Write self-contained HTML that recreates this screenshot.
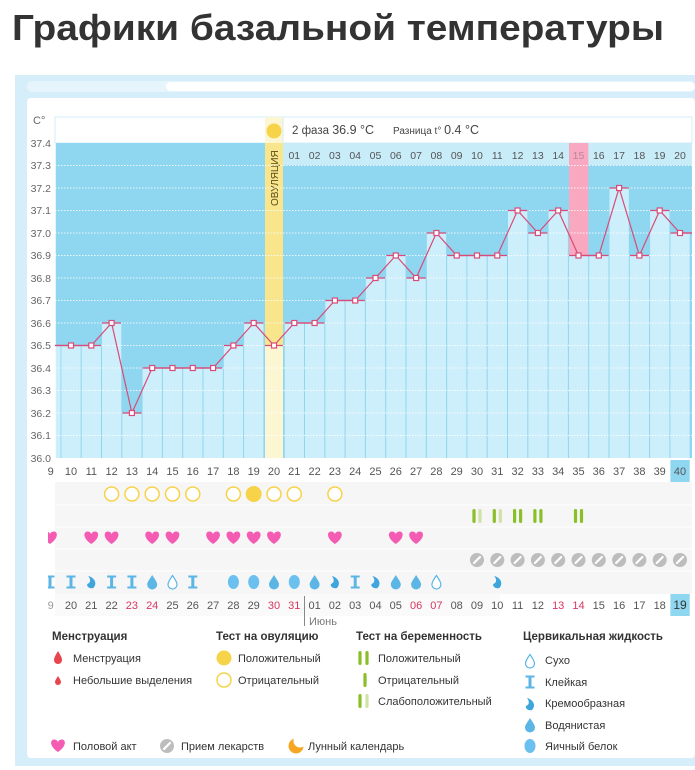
<!DOCTYPE html>
<html><head><meta charset="utf-8"><style>
html,body{margin:0;padding:0;background:#fff;}
svg{display:block;font-family:"Liberation Sans","Noto Sans CJK SC",sans-serif;}
</style></head><body>
<svg width="695" height="770" viewBox="0 0 695 770" xmlns="http://www.w3.org/2000/svg">
<defs>
<path id="hrt" d="M0,6 C-9,0 -8,-6.5 -3.7,-6.5 C-1.7,-6.5 0,-5 0,-3.5 C0,-5 1.7,-6.5 3.7,-6.5 C8,-6.5 9,0 0,6Z" fill="#f45cb3"/>
<g id="pill"><circle r="7" fill="#bdbdbd"/><line x1="-3" y1="3" x2="3" y2="-3" stroke="#fff" stroke-width="2.2" stroke-linecap="round"/></g>
<path id="drop" d="M0,-7 C2.5,-3 5,0 5,2.5 A5,5 0 0 1 -5,2.5 C-5,0 -2.5,-3 0,-7Z" fill="#5bb6e6"/>
<path id="edrop" d="M0,-6.5 C2.5,-3 4.5,0 4.5,2.5 A4.5,4.5 0 0 1 -4.5,2.5 C-4.5,0 -2.5,-3 0,-6.5Z" fill="#fff" stroke="#5bb6e6" stroke-width="1.2"/>
<ellipse id="egg" rx="5.5" ry="7" fill="#6cc0ef"/>
<path id="ii" d="M-4.5,-6.5 H4.5 V-4.5 H1.5 V4.5 H4.5 V6.5 H-4.5 V4.5 H-1.5 V-4.5 H-4.5Z" fill="#5bb6e6"/>
<path id="crm" d="M-3,-6 C4,-4 6,2 2,6 C-1,7 -5,5 -4,2 C-1,1 0,-2 -3,-6Z" fill="#3fa6dd"/>
<circle id="oe" r="7" fill="#fff" stroke="#f7d34a" stroke-width="1.5"/>
<circle id="of" r="8" fill="#f7d34a"/>
<rect id="pd" x="-1.6" y="-7" width="3.2" height="14" rx="1.6" fill="#8bbf2a"/>
<rect id="pl" x="-1.6" y="-7" width="3.2" height="14" rx="1.6" fill="#cfe3a6"/>
</defs>

<text x="12" y="40" font-size="36" font-weight="bold" fill="#333" textLength="652" lengthAdjust="spacingAndGlyphs">Графики базальной температуры</text>

<!-- frame -->
<rect x="15" y="75" width="680" height="691" fill="#d6eef9"/>
<rect x="27" y="98" width="668" height="660" rx="4" fill="#fff"/>
<rect x="27" y="81" width="668" height="11" rx="5" fill="#e6f5fc"/>
<rect x="166" y="82" width="529" height="9" rx="4.5" fill="#fff"/>

<!-- header -->
<rect x="55" y="117" width="637" height="26" fill="#fff" stroke="#d3ecf7"/>
<text x="33" y="124" font-size="11" fill="#666">C°</text>
<rect x="265" y="117" width="18" height="341" fill="#fdf6d2"/>
<circle cx="274" cy="131" r="7.5" fill="#f7d34a"/>
<rect x="283" y="117" width="409" height="26" fill="#fff" stroke="#d3ecf7"/>
<text x="292" y="134" font-size="11.5" fill="#444">2 фаза <tspan font-size="12.5">36.9 °C</tspan></text>
<text x="393" y="134" font-size="10" fill="#444">Разница t° <tspan font-size="12.5">0.4 °C</tspan></text>

<!-- plot bg -->
<rect x="55" y="143" width="210" height="315" fill="#8fd6f0"/>
<rect x="283" y="165" width="409" height="293" fill="#8fd6f0"/>
<rect x="283" y="143" width="409" height="22" fill="#c9ecf9"/>
<rect x="265" y="143" width="18" height="202" fill="#f8e58c"/>
<text transform="translate(278,206) rotate(-90)" font-size="10" fill="#5a4a18">ОВУЛЯЦИЯ</text>

<!-- pink day 35 -->
<rect x="569" y="143" width="19.3" height="112" fill="#f8a9c0"/>

<!-- bars -->
<g fill="#cdeefb">
<rect x="55" y="345.5" width="5.5" height="112.5"/>
<rect x="61.4" y="345.5" width="19.3" height="112.5"/>
<rect x="81.7" y="345.5" width="19.3" height="112.5"/>
<rect x="102" y="323" width="19.3" height="135"/>
<rect x="122.3" y="413" width="19.3" height="45"/>
<rect x="142.6" y="368" width="19.3" height="90"/>
<rect x="162.9" y="368" width="19.3" height="90"/>
<rect x="183.2" y="368" width="19.3" height="90"/>
<rect x="203.5" y="368" width="19.3" height="90"/>
<rect x="223.8" y="345.5" width="19.3" height="112.5"/>
<rect x="244.1" y="323" width="19.3" height="135"/>
<rect x="284.7" y="323" width="19.3" height="135"/>
<rect x="305" y="323" width="19.3" height="135"/>
<rect x="325.3" y="300.5" width="19.3" height="157.5"/>
<rect x="345.6" y="300.5" width="19.3" height="157.5"/>
<rect x="365.9" y="278" width="19.3" height="180"/>
<rect x="386.2" y="255.5" width="19.3" height="202.5"/>
<rect x="406.5" y="278" width="19.3" height="180"/>
<rect x="426.8" y="233" width="19.3" height="225"/>
<rect x="447.1" y="255.5" width="19.3" height="202.5"/>
<rect x="467.4" y="255.5" width="19.3" height="202.5"/>
<rect x="487.7" y="255.5" width="19.3" height="202.5"/>
<rect x="508" y="210.5" width="19.3" height="247.5"/>
<rect x="528.3" y="233" width="19.3" height="225"/>
<rect x="548.6" y="210.5" width="19.3" height="247.5"/>
<rect x="568.9" y="255.5" width="19.3" height="202.5"/>
<rect x="589.2" y="255.5" width="19.3" height="202.5"/>
<rect x="609.5" y="188" width="19.3" height="270"/>
<rect x="629.8" y="255.5" width="19.3" height="202.5"/>
<rect x="650.1" y="210.5" width="19.3" height="247.5"/>
<rect x="670.4" y="233" width="19.3" height="225"/>
</g>

<!-- gridlines -->
<g stroke="#fff" stroke-width="1" stroke-dasharray="1.5,1.5" opacity="0.85">
<line x1="55" y1="165.5" x2="692" y2="165.5"/><line x1="55" y1="188" x2="692" y2="188"/>
<line x1="55" y1="210.5" x2="692" y2="210.5"/><line x1="55" y1="233" x2="692" y2="233"/>
<line x1="55" y1="255.5" x2="692" y2="255.5"/><line x1="55" y1="278" x2="692" y2="278"/>
<line x1="55" y1="300.5" x2="692" y2="300.5"/><line x1="55" y1="323" x2="692" y2="323"/>
<line x1="55" y1="345.5" x2="692" y2="345.5"/><line x1="55" y1="368" x2="692" y2="368"/>
<line x1="55" y1="390.5" x2="692" y2="390.5"/><line x1="55" y1="413" x2="692" y2="413"/>
<line x1="55" y1="435.5" x2="692" y2="435.5"/>
</g>
<line x1="55" y1="143" x2="55" y2="458" stroke="#fff" stroke-width="1.5"/>

<!-- y labels -->
<g font-size="10.5" fill="#666" text-anchor="end">
<text x="51" y="147">37.4</text><text x="51" y="169">37.3</text><text x="51" y="192">37.2</text>
<text x="51" y="214">37.1</text><text x="51" y="237">37.0</text><text x="51" y="259">36.9</text>
<text x="51" y="282">36.8</text><text x="51" y="304">36.7</text><text x="51" y="327">36.6</text>
<text x="51" y="349">36.5</text><text x="51" y="372">36.4</text><text x="51" y="394">36.3</text>
<text x="51" y="417">36.2</text><text x="51" y="439">36.1</text><text x="51" y="462">36.0</text>
</g>

<!-- header day numbers -->
<g font-size="10.5" fill="#555" text-anchor="middle">
<text x="294.3" y="159">01</text><text x="314.6" y="159">02</text><text x="334.9" y="159">03</text>
<text x="355.2" y="159">04</text><text x="375.5" y="159">05</text><text x="395.8" y="159">06</text>
<text x="416.1" y="159">07</text><text x="436.4" y="159">08</text><text x="456.7" y="159">09</text>
<text x="477" y="159">10</text><text x="497.3" y="159">11</text><text x="517.6" y="159">12</text>
<text x="537.9" y="159">13</text><text x="558.2" y="159">14</text><text x="578.5" y="159">15</text>
<text x="598.8" y="159">16</text><text x="619.1" y="159">17</text><text x="639.4" y="159">18</text>
<text x="659.7" y="159">19</text><text x="680" y="159">20</text>
</g>
<rect x="569" y="143" width="19.3" height="22" fill="#f8a9c0" opacity="0.6"/>

<!-- tick marks -->
<g stroke="#d94b78" stroke-width="1.2">
<line x1="55" y1="345.5" x2="81" y2="345.5"/><line x1="81.7" y1="345.5" x2="101" y2="345.5"/>
<line x1="102" y1="323" x2="121" y2="323"/><line x1="122.3" y1="413" x2="141.6" y2="413"/>
<line x1="142.6" y1="368" x2="222" y2="368"/><line x1="223.8" y1="345.5" x2="243" y2="345.5"/>
<line x1="244.1" y1="323" x2="263.4" y2="323"/><line x1="265" y1="345.5" x2="283" y2="345.5"/>
<line x1="284.7" y1="323" x2="324.3" y2="323"/><line x1="325.3" y1="300.5" x2="364.9" y2="300.5"/>
<line x1="365.9" y1="278" x2="385.2" y2="278"/><line x1="386.2" y1="255.5" x2="405.5" y2="255.5"/>
<line x1="406.5" y1="278" x2="425.8" y2="278"/><line x1="426.8" y1="233" x2="446.1" y2="233"/>
<line x1="447.1" y1="255.5" x2="507" y2="255.5"/><line x1="508" y1="210.5" x2="527.3" y2="210.5"/>
<line x1="528.3" y1="233" x2="547.6" y2="233"/><line x1="548.6" y1="210.5" x2="567.9" y2="210.5"/>
<line x1="568.9" y1="255.5" x2="608.5" y2="255.5"/><line x1="609.5" y1="188" x2="628.8" y2="188"/>
<line x1="629.8" y1="255.5" x2="649.1" y2="255.5"/><line x1="650.1" y1="210.5" x2="669.4" y2="210.5"/>
<line x1="670.4" y1="233" x2="692" y2="233"/>
</g>
<polyline fill="none" stroke="#d94b78" stroke-width="1.2" points="55,345.5 71,345.5 91.3,345.5 111.6,323 131.9,413 152.2,368 172.5,368 192.8,368 213.1,368 233.4,345.5 253.7,323 274,345.5 294.3,323 314.6,323 334.9,300.5 355.2,300.5 375.5,278 395.8,255.5 416.1,278 436.4,233 456.7,255.5 477,255.5 497.3,255.5 517.6,210.5 537.9,233 558.2,210.5 578.5,255.5 598.8,255.5 619.1,188 639.4,255.5 659.7,210.5 680,233 692,233"/>
<g fill="#fff" stroke="#d94b78" stroke-width="1.2">
<rect x="68.5" y="343" width="5" height="5"/><rect x="88.8" y="343" width="5" height="5"/>
<rect x="109.1" y="320.5" width="5" height="5"/><rect x="129.4" y="410.5" width="5" height="5"/>
<rect x="149.7" y="365.5" width="5" height="5"/><rect x="170" y="365.5" width="5" height="5"/>
<rect x="190.3" y="365.5" width="5" height="5"/><rect x="210.6" y="365.5" width="5" height="5"/>
<rect x="230.9" y="343" width="5" height="5"/><rect x="251.2" y="320.5" width="5" height="5"/>
<rect x="271.5" y="343" width="5" height="5"/><rect x="291.8" y="320.5" width="5" height="5"/>
<rect x="312.1" y="320.5" width="5" height="5"/><rect x="332.4" y="298" width="5" height="5"/>
<rect x="352.7" y="298" width="5" height="5"/><rect x="373" y="275.5" width="5" height="5"/>
<rect x="393.3" y="253" width="5" height="5"/><rect x="413.6" y="275.5" width="5" height="5"/>
<rect x="433.9" y="230.5" width="5" height="5"/><rect x="454.2" y="253" width="5" height="5"/>
<rect x="474.5" y="253" width="5" height="5"/><rect x="494.8" y="253" width="5" height="5"/>
<rect x="515.1" y="208" width="5" height="5"/><rect x="535.4" y="230.5" width="5" height="5"/>
<rect x="555.7" y="208" width="5" height="5"/><rect x="576" y="253" width="5" height="5"/>
<rect x="596.3" y="253" width="5" height="5"/><rect x="616.6" y="185.5" width="5" height="5"/>
<rect x="636.9" y="253" width="5" height="5"/><rect x="657.2" y="208" width="5" height="5"/>
<rect x="677.5" y="230.5" width="5" height="5"/>
</g>

<!-- bottom rows bg -->
<rect x="55" y="482" width="637" height="112" fill="#f6f6f6"/>
<g stroke="#fff" stroke-width="1">
<line x1="55" y1="505" x2="692" y2="505"/><line x1="55" y1="527" x2="692" y2="527"/>
<line x1="55" y1="549" x2="692" y2="549"/><line x1="55" y1="571" x2="692" y2="571"/>
</g>
<rect x="55" y="594" width="445" height="22" fill="#fafafa"/>
<rect x="670.4" y="460" width="19.3" height="22" fill="#8fd6f0"/>
<rect x="670.4" y="594" width="19.3" height="22" fill="#8fd6f0"/>

<!-- day numbers -->
<g font-size="11" fill="#555" text-anchor="middle">
<text x="50.7" y="475">9</text><text x="71" y="475">10</text><text x="91.3" y="475">11</text>
<text x="111.6" y="475">12</text><text x="131.9" y="475">13</text><text x="152.2" y="475">14</text>
<text x="172.5" y="475">15</text><text x="192.8" y="475">16</text><text x="213.1" y="475">17</text>
<text x="233.4" y="475">18</text><text x="253.7" y="475">19</text><text x="274" y="475">20</text>
<text x="294.3" y="475">21</text><text x="314.6" y="475">22</text><text x="334.9" y="475">23</text>
<text x="355.2" y="475">24</text><text x="375.5" y="475">25</text><text x="395.8" y="475">26</text>
<text x="416.1" y="475">27</text><text x="436.4" y="475">28</text><text x="456.7" y="475">29</text>
<text x="477" y="475">30</text><text x="497.3" y="475">31</text><text x="517.6" y="475">32</text>
<text x="537.9" y="475">33</text><text x="558.2" y="475">34</text><text x="578.5" y="475">35</text>
<text x="598.8" y="475">36</text><text x="619.1" y="475">37</text><text x="639.4" y="475">38</text>
<text x="659.7" y="475">39</text><text x="680" y="475">40</text>
</g>

<!-- ovulation tests -->
<use href="#oe" x="111.6" y="494"/><use href="#oe" x="131.9" y="494"/><use href="#oe" x="152.2" y="494"/>
<use href="#oe" x="172.5" y="494"/><use href="#oe" x="192.8" y="494"/><use href="#oe" x="233.4" y="494"/>
<use href="#of" x="253.7" y="494"/><use href="#oe" x="274" y="494"/><use href="#oe" x="294.3" y="494"/>
<use href="#oe" x="334.9" y="494"/>

<!-- pregnancy tests -->
<use href="#pd" x="474" y="516"/><use href="#pl" x="480" y="516"/>
<use href="#pd" x="494.3" y="516"/><use href="#pl" x="500.3" y="516"/>
<use href="#pd" x="514.6" y="516"/><use href="#pd" x="520.6" y="516"/>
<use href="#pd" x="534.9" y="516"/><use href="#pd" x="540.9" y="516"/>
<use href="#pd" x="575.5" y="516"/><use href="#pd" x="581.5" y="516"/>

<!-- hearts -->
<use href="#hrt" x="50" y="538"/><use href="#hrt" x="91.3" y="538"/><use href="#hrt" x="111.6" y="538"/>
<use href="#hrt" x="152.2" y="538"/><use href="#hrt" x="172.5" y="538"/><use href="#hrt" x="213.1" y="538"/>
<use href="#hrt" x="233.4" y="538"/><use href="#hrt" x="253.7" y="538"/><use href="#hrt" x="274" y="538"/>
<use href="#hrt" x="334.9" y="538"/><use href="#hrt" x="395.8" y="538"/><use href="#hrt" x="416.1" y="538"/>

<!-- pills -->
<use href="#pill" x="477" y="560"/><use href="#pill" x="497.3" y="560"/><use href="#pill" x="517.6" y="560"/>
<use href="#pill" x="537.9" y="560"/><use href="#pill" x="558.2" y="560"/><use href="#pill" x="578.5" y="560"/>
<use href="#pill" x="598.8" y="560"/><use href="#pill" x="619.1" y="560"/><use href="#pill" x="639.4" y="560"/>
<use href="#pill" x="659.7" y="560"/><use href="#pill" x="680" y="560"/>

<!-- fluid -->
<use href="#ii" x="50" y="582"/>
<use href="#ii" x="71" y="582"/><use href="#crm" x="91.3" y="582"/><use href="#ii" x="111.6" y="582"/>
<use href="#ii" x="131.9" y="582"/><use href="#drop" x="152.2" y="582"/><use href="#edrop" x="172.5" y="582"/>
<use href="#ii" x="192.8" y="582"/><use href="#egg" x="233.4" y="582"/><use href="#egg" x="253.7" y="582"/>
<use href="#drop" x="274" y="582"/><use href="#egg" x="294.3" y="582"/><use href="#drop" x="314.6" y="582"/>
<use href="#crm" x="334.9" y="582"/><use href="#ii" x="355.2" y="582"/><use href="#crm" x="375.5" y="582"/>
<use href="#drop" x="395.8" y="582"/><use href="#drop" x="416.1" y="582"/><use href="#edrop" x="436.4" y="582"/>
<use href="#crm" x="497.3" y="582"/>

<!-- dates -->
<g font-size="11" fill="#555" text-anchor="middle">
<text x="50.7" y="609" fill="#999">9</text><text x="71" y="609">20</text><text x="91.3" y="609">21</text>
<text x="111.6" y="609">22</text><text x="131.9" y="609" fill="#d8365f">23</text><text x="152.2" y="609" fill="#d8365f">24</text>
<text x="172.5" y="609">25</text><text x="192.8" y="609">26</text><text x="213.1" y="609">27</text>
<text x="233.4" y="609">28</text><text x="253.7" y="609">29</text><text x="274" y="609" fill="#d8365f">30</text>
<text x="294.3" y="609" fill="#d8365f">31</text><text x="314.6" y="609">01</text><text x="334.9" y="609">02</text>
<text x="355.2" y="609">03</text><text x="375.5" y="609">04</text><text x="395.8" y="609">05</text>
<text x="416.1" y="609" fill="#d8365f">06</text><text x="436.4" y="609" fill="#d8365f">07</text><text x="456.7" y="609">08</text>
<text x="477" y="609">09</text><text x="497.3" y="609">10</text><text x="517.6" y="609">11</text>
<text x="537.9" y="609">12</text><text x="558.2" y="609" fill="#d8365f">13</text><text x="578.5" y="609" fill="#d8365f">14</text>
<text x="598.8" y="609">15</text><text x="619.1" y="609">16</text><text x="639.4" y="609">17</text>
<text x="659.7" y="609">18</text><text x="680" y="609" font-size="12" fill="#333">19</text>
</g>
<!-- mask left of column 9 -->
<rect x="27" y="464" width="21" height="156" fill="#fff"/>
<line x1="304.5" y1="596" x2="304.5" y2="626" stroke="#888" stroke-width="1"/>
<text x="309" y="625" font-size="11" fill="#777">Июнь</text>

<!-- legend -->
<g font-size="11" fill="#333">
<text x="52" y="640" font-weight="bold" font-size="11.5">Менструация</text>
<text x="216" y="640" font-weight="bold" font-size="11.5">Тест на овуляцию</text>
<text x="356" y="640" font-weight="bold" font-size="11.5">Тест на беременность</text>
<text x="523" y="640" font-weight="bold" font-size="11.5">Цервикальная жидкость</text>
<text x="73" y="662">Менструация</text>
<text x="73" y="684">Небольшие выделения</text>
<text x="238" y="662">Положительный</text>
<text x="238" y="684">Отрицательный</text>
<text x="378" y="662">Положительный</text>
<text x="378" y="684">Отрицательный</text>
<text x="378" y="705">Слабоположительный</text>
<text x="545" y="664">Сухо</text>
<text x="545" y="686">Клейкая</text>
<text x="545" y="707">Кремообразная</text>
<text x="545" y="729">Водянистая</text>
<text x="545" y="750">Яичный белок</text>
<text x="73" y="750">Половой акт</text>
<text x="181" y="750">Прием лекарств</text>
<text x="308" y="750">Лунный календарь</text>
</g>
<path d="M58,651 C61,656 62,658 62,660 A4,4 0 0 1 54,660 C54,658 55,656 58,651Z" fill="#e8454f"/>
<path d="M58,676 C60,679 61,681 61,682 A3,3 0 0 1 55,682 C55,681 56,679 58,676Z" fill="#e8454f"/>
<circle cx="224" cy="658" r="7.5" fill="#f7d34a"/>
<circle cx="224" cy="680" r="7" fill="#fff" stroke="#f7d34a" stroke-width="1.5"/>
<use href="#pd" x="360" y="658"/><use href="#pd" x="367" y="658"/>
<use href="#pd" x="365" y="680"/>
<use href="#pd" x="360" y="701"/><use href="#pl" x="367" y="701"/>
<use href="#edrop" x="530" y="661"/>
<use href="#ii" x="530" y="682"/>
<use href="#crm" x="530" y="704"/>
<use href="#drop" x="530" y="725"/>
<use href="#egg" x="530" y="746"/>
<use href="#hrt" x="58" y="746"/>
<use href="#pill" x="167" y="746"/>
<circle cx="296" cy="746" r="7.5" fill="#f5a623"/>
<circle cx="300" cy="741" r="6.5" fill="#fff"/>
</svg>
</body></html>
